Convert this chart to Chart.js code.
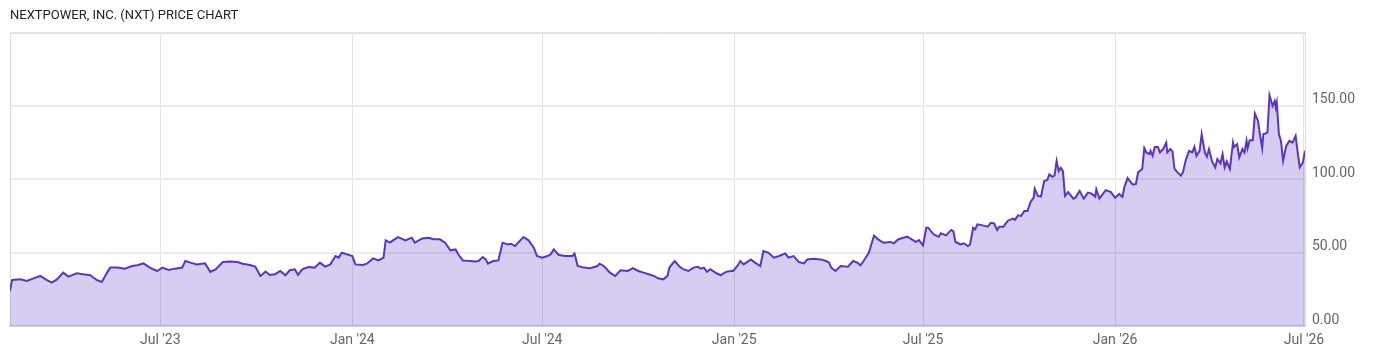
<!DOCTYPE html>
<html>
<head>
<meta charset="utf-8">
<script src="https://cdn.jsdelivr.net/npm/chart.js@4.4.1/dist/chart.umd.min.js"></script>
<style>
  body { margin: 0; background: #fff; }
  #wrap { width: 1400px; height: 357px; position: relative; }
</style>
</head>
<body>
<div id="wrap"><canvas id="priceChart"></canvas></div>
<script>
// days since 2023-01-01, closing price
var days = [37,39,47,53,59,66,72,77,82,88,93,101,107,114,120,125,130,133,140,147,154,159,165,171,178,183,189,195,202,205,210,216,224,229,234,241,247,
  255,260,267,272,277,282,286,291,296,301,305,310,313,317,323,329,334,339,344,349,352,355,360,365,368,375,379,385,390,395,397,401,404,409,416,422,425,432,438,443,449,454,459,
  464,467,471,478,483,486,490,493,495,500,505,509,514,517,521,524,529,534,539,542,547,552,555,558,563,569,576,578,581,587,593,600,602,606,612,617,622,629,634,639,644,649,654,658,663,667,669,
  674,678,682,687,692,696,699,702,705,708,713,718,723,728,730,734,737,740,747,751,756,759,764,769,774,780,783,788,793,798,801,807,814,819,822,824,828,833,840,845,849,852,855,860,865,869,874,
  881,884,888,893,897,900,905,908,912,915,917,922,927,929,934,939,941,943,948,951,955,957,960,962,964,969,974,977,980,983,985,989,993,998,1000,1003,1006,1009,1012,1015,1018,1019,1022,1025,1028,1031,1033,1036,1038,1040,1042,1044,1046,1048,1051,1056,1058,1062,1066,1070,1073,1077,1078,1081,1087,1092,
  1096,1100,1103,1105,1108,1110,1113,1116,1118,1122,1124,1126,1129,1130,1132,1134,1137,1139,1142,1145,1146,1149,1151,1153,1156,1159,1161,1164,1167,1170,1172,1174,1177,1179,1182,1184,1186,1189,1192,1194,1197,1199,1201,1203,1206,1209,1210,1213,1215,1218,1220,1222,1223,1225,1228,1230,1233,1235,1237,1238,1242,1244,1247,1249,1250,1251,1253,1255,1257,1260,1263,1266,1269,1271,1273,1276,1278];

var prices = [24,31.4,31.8,30.7,32.3,34.1,31.4,29.6,31.8,36.4,33.7,35.9,35.2,34.6,31.4,30.0,36.4,39.8,39.8,39.1,40.9,41.4,42.7,39.8,37.5,39.8,38.2,39.1,39.8,44.3,43.2,42.0,42.7,36.8,38.6,43.6,44.0,
  43.6,42.5,41.6,40.5,34.1,37.1,34.8,35.3,37.5,34.6,38.0,38.6,34.8,38.6,40.2,39.8,43.2,40.5,42.0,47.7,46.6,49.9,48.8,47.7,42.0,41.6,42.5,46.1,44.7,46.6,58.4,56.8,58.4,60.6,58.4,60.2,56.8,59.7,60.2,59.1,59.1,56.8,51.6,
  52.2,48.4,44.7,44.3,43.9,44.3,47.0,45.4,42.5,44.3,44.7,56.8,55.6,56.1,54.5,56.8,60.6,58.4,53.4,47.7,46.6,47.7,48.8,52.2,48.4,47.7,47.7,49.3,40.9,39.8,39.4,40.9,42.5,40.9,36.4,34.1,38.0,37.5,39.4,37.5,36.4,35.3,34.1,32.5,31.8,34.1,40.0,
  44.3,40.9,38.7,37.5,39.8,40.4,39.1,39.8,36.9,38.7,36.4,34.6,36.9,37.5,37.5,40.9,44.3,42.0,45.4,43.2,40.9,51.1,49.9,46.6,47.7,49.5,46.6,47.7,43.6,42.7,45.4,45.9,45.4,44.3,43.2,39.8,37.5,40.9,40.4,44.3,43.2,41.4,44.3,49.9,61.7,59.0,56.7,
  57.3,56.4,59.0,60.2,60.9,59.5,57.3,58.6,55.0,67.0,67.0,62.5,60.9,63.2,61.8,65.5,64.7,57.3,55.6,56.4,54.5,55.6,67.0,65.9,69.3,68.6,67.7,70.4,70.0,65.5,67.7,67.7,71.6,73.2,72.3,75.4,75.0,78.4,78.4,84.6,87.5,93.6,88.7,88.2,98.8,99.5,103.3,101.7,102.6,112.4,105.6,107.8,105.6,88.7,91.3,86.8,87.5,92.0,86.8,90.9,90.4,88.2,93.2,86.8,92.6,91.3,
  87.4,90.0,88.0,94.9,100.8,99.0,96.3,96.8,104.7,107.0,121.2,118.3,117.2,119.4,116.0,122.1,122.1,118.3,120.6,125.0,118.3,120.6,119.0,107.0,104.7,102.5,104.7,113.8,119.4,118.3,122.1,116.0,119.4,130.7,118.3,115.4,120.6,112.2,108.1,113.8,110.8,117.2,108.1,112.2,107.0,125.0,122.1,123.9,114.9,120.6,118.3,126.2,121.2,126.6,126.6,144.8,139.8,129.6,121.2,130.7,131.8,157.4,150.0,153.4,148.9,152.3,130.7,126.2,112.6,122.8,126.2,125.0,129.6,118.3,108.1,111.5,119.4];

var tickDays = [181, 365, 547, 731, 912, 1096, 1277];
var tickLabels = ["Jul '23", "Jan '24", "Jul '24", "Jan '25", "Jul '25", "Jan '26", "Jul '26"];

var points = [];
for (var i in days) {
  points.push({x: days[i], y: prices[i]});
}

var frame = {
  id: 'frame',
  beforeDatasetsDraw: function(chart) {
    var a = chart.chartArea, ctx = chart.ctx;
    ctx.save();
    ctx.strokeStyle = '#dcdcdc';
    ctx.lineWidth = 1;
    ctx.beginPath();
    ctx.moveTo(a.left + 0.5, a.bottom);
    ctx.lineTo(a.left + 0.5, a.top + 0.5);
    ctx.lineTo(a.right, a.top + 0.5);
    ctx.stroke();
    ctx.restore();
  }
};

Chart.defaults.font.family = 'Roboto, "Noto Sans", sans-serif';

var ctx = document.getElementById('priceChart');
new Chart(ctx, {
  type: 'line',
  data: {
    datasets: [{
      label: 'NXT',
      data: points,
      borderColor: '#5b33c6',
      backgroundColor: 'rgba(95,55,200,0.25)',
      borderWidth: 2,
      pointRadius: 0,
      tension: 0,
      fill: 'origin'
    }]
  },
  options: {
    responsive: true,
    maintainAspectRatio: false,
    animation: false,
    layout: { padding: { left: 10, right: 0, top: 0, bottom: 0 } },
    plugins: {
      legend: { display: false },
      tooltip: { enabled: false },
      title: {
        display: true,
        text: 'NEXTPOWER, INC. (NXT) PRICE CHART',
        align: 'start',
        color: '#222',
        font: { size: 13, weight: 'normal' },
        padding: { top: 8, bottom: 9 }
      }
    },
    scales: {
      x: {
        type: 'linear',
        min: 37,
        max: 1278,
        afterBuildTicks: function(scale) {
          scale.ticks = tickDays.map(function(d) { return {value: d}; });
        },
        afterFit: function(scale) { scale.height = 31; },
        ticks: {
          autoSkip: false,
          maxRotation: 0,
          padding: 6,
          color: '#666',
          font: { size: 14 },
          callback: function(v) {
            var k = tickDays.indexOf(v);
            return k >= 0 ? tickLabels[k] : '';
          }
        },
        grid: { color: '#e3e3e3', lineWidth: 1, drawTicks: false },
        border: { color: '#d6d6d6', width: 2 }
      },
      y: {
        position: 'right',
        min: 0,
        max: 200,
        afterFit: function(scale) {
          scale.width = 95;
          scale.paddingTop = 0;
          scale.paddingBottom = 0;
        },
        ticks: {
          stepSize: 50,
          padding: 7,
          labelOffset: -6,
          color: '#666',
          font: { size: 14 },
          callback: function(v) { return v === 200 ? '' : v.toFixed(2); }
        },
        grid: { color: '#ebebeb', lineWidth: 2, drawTicks: false },
        border: { color: '#dcdcdc', width: 1 }
      }
    }
  },
  plugins: [frame]
});
</script>
</body>
</html>
